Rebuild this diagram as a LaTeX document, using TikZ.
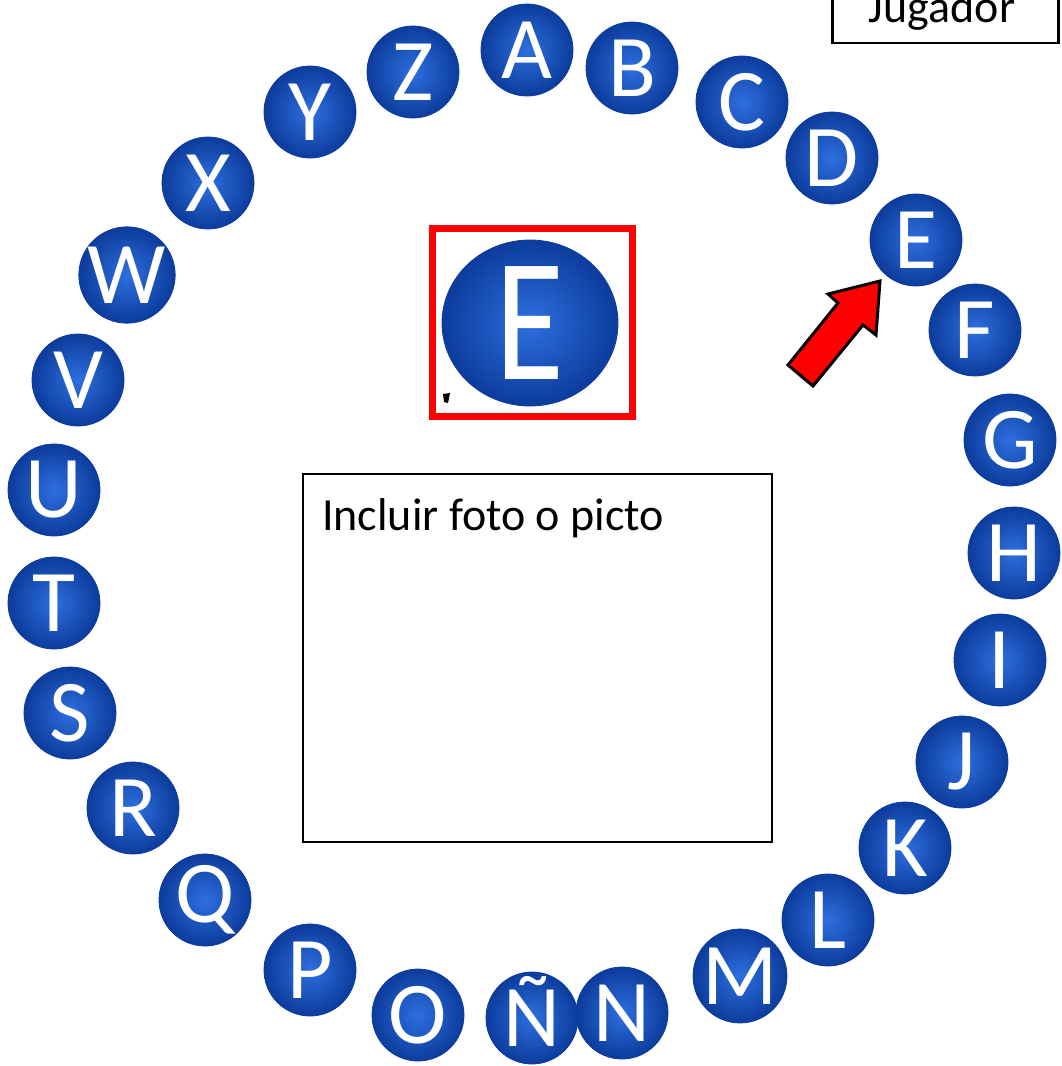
\documentclass[tikz,border=0pt]{standalone}
\usepackage{fontspec}
\newfontfamily\calfont{Carlito}
\usetikzlibrary{shapes.geometric}
\definecolor{ballin}{HTML}{2E6FE0}
\definecolor{ballout}{HTML}{0C3C9C}
\definecolor{arrowred}{HTML}{FF0000}
\tikzset{
  ball/.style={circle, minimum size=92pt, inner sep=0pt, inner color=ballin, outer color=ballout,
    draw=ballout, line width=0.8pt,
    text=white, font=\calfont\fontsize{88}{88}\selectfont},
  plainbox/.style={draw=black, line width=1.6pt, inner sep=0pt},
  label/.style={font=\calfont\fontsize{46}{46}\selectfont, inner sep=0pt}
}
\begin{document}
\begin{tikzpicture}[x=1pt,y=-1pt]
\useasboundingbox (0,0) rectangle (1061,1066);
% letters
\node[ball] (A) at (527,50) {A};
\node[ball] (B) at (632,68) {B};
\node[ball] (C) at (742,102) {C};
\node[ball] (D) at (832,158) {D};
\node[ball] (E) at (916,240) {E};
\node[ball] (F) at (975,330) {F};
\node[ball] (G) at (1010,440) {G};
\node[ball] (H) at (1014,553) {H};
\node[ball] (I) at (1000,660) {I};
\node[ball] (J) at (962,762) {J};
\node[ball] (K) at (905,848) {K};
\node[ball] (L) at (828,920) {L};
\node[ball] (M) at (740,976) {M};
\node[ball] (N) at (622,1013) {N};
\node[ball] (NN) at (532,1018) {\smash{Ñ}\vphantom{N}};
\node[ball] (O) at (418,1015) {O};
\node[ball] (P) at (310,970) {P};
\node[ball] (Q) at (205,900) {Q};
\node[ball] (R) at (133,808) {R};
\node[ball] (S) at (70,713) {S};
\node[ball] (T) at (54,603) {T};
\node[ball] (U) at (54,490) {U};
\node[ball] (V) at (78,380) {V};
\node[ball] (W) at (127,275) {W};
\node[ball] (X) at (208,183) {X};
\node[ball] (Y) at (310,112) {Y};
\node[ball] (Z) at (413,72) {Z};
% selected letter
\node[draw=arrowred, line width=7pt, minimum width=200pt, minimum height=188pt, inner sep=0pt] (sel) at (532,322) {};
\node[ellipse, minimum width=176pt, minimum height=166pt, inner sep=0pt, inner color=ballin, outer color=ballout,
  draw=ballout, line width=0.8pt,
  text=white, font=\calfont\fontsize{176}{176}\selectfont] (bigE) at (530,323) {\scalebox{0.8}[1]{E}};
\fill[black] (443,394) -- (450,393) -- (448,403) -- (444,402) -- cycle;
% arrow
\draw[fill=arrowred, line width=3pt, line join=miter] (880,281) -- (876,335) -- (863,325) -- (813,386) -- (788,365) -- (838,303) -- (828,294) -- cycle;
% boxes
\node[plainbox, line width=2.5pt, minimum width=226pt, minimum height=90pt, anchor=south west] (jbox) at (831,44) {};
\node[label, anchor=base] (jug) at (942,22) {Jugador};
\node[plainbox, minimum width=469pt, minimum height=368pt, anchor=north west] (foto) at (302,473) {};
\node[label, anchor=base west] (inc) at (322,530) {Incluir foto o picto};
\end{tikzpicture}
\end{document}
